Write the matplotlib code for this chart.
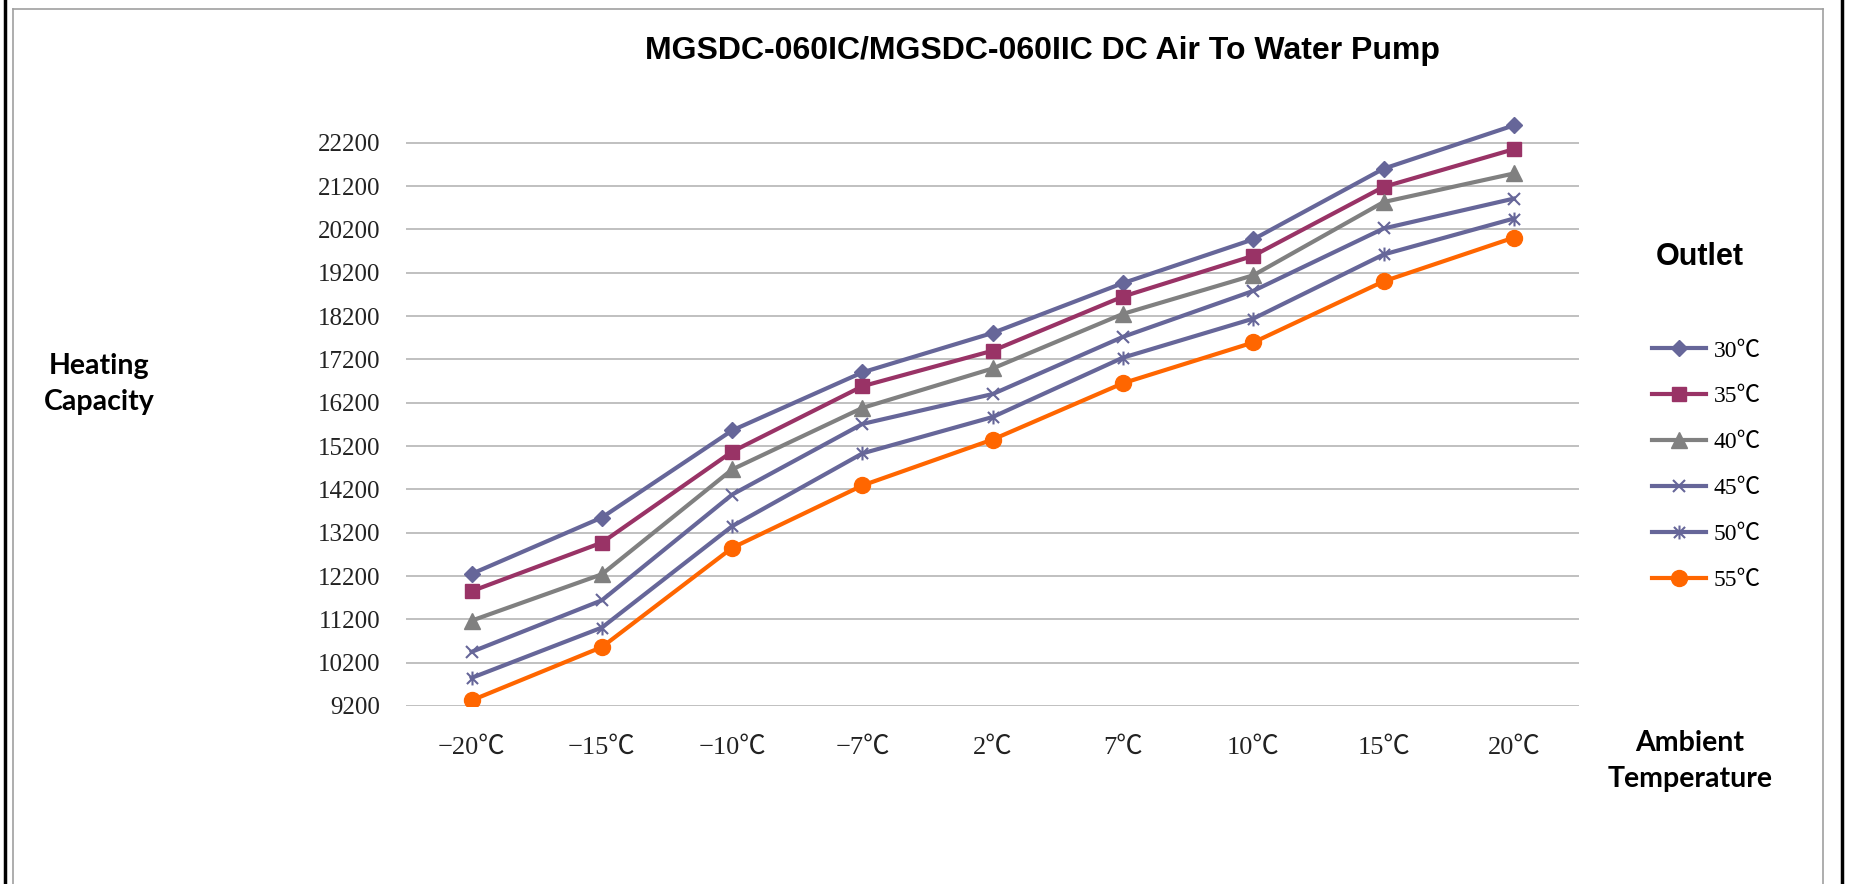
import matplotlib
matplotlib.use("Agg")
import matplotlib.pyplot as plt
from matplotlib.path import Path
from matplotlib.lines import Line2D

# ---------------- data ----------------
temps = ['−20℃', '−15℃', '−10℃', '−7℃', '2℃', '7℃', '10℃', '15℃', '20℃']
series_labels = ['30℃', '35℃', '40℃', '45℃', '50℃', '55℃']
out_30 = [12250, 13550, 15560, 16900, 17810, 18960, 19970, 21600, 22600]
out_35 = [11850, 12970, 15070, 16580, 17400, 18650, 19590, 21180, 22050]
out_40 = [11170, 12240, 14660, 16080, 16990, 18250, 19140, 20830, 21490]
out_45 = [10450, 11640, 14080, 15710, 16400, 17720, 18780, 20220, 20910]
out_50 = [9850, 11010, 13350, 15030, 15870, 17240, 18140, 19620, 20450]
out_55 = [9330, 10560, 12850, 14290, 15350, 16650, 17590, 19000, 20010]
y_ticks = list(range(9200, 22201, 1000))

# ---------------- style ----------------
serif = ['Liberation Serif', 'Noto Sans CJK SC', 'DejaVu Sans']
asterisk = Path([(0, -1), (0, 1), (-0.8, -0.8), (0.8, 0.8), (-0.8, 0.8), (0.8, -0.8)],
                [Path.MOVETO, Path.LINETO, Path.MOVETO, Path.LINETO, Path.MOVETO, Path.LINETO])

styles = [
    dict(color='#666699', marker='D', ms=8.5, mew=1),
    dict(color='#993366', marker='s', ms=10.5, mew=1),
    dict(color='#808080', marker='^', ms=11.5, mew=1),
    dict(color='#666699', marker='x', ms=8, mew=1.5),
    dict(color='#666699', marker=asterisk, ms=10, mew=1.5),
    dict(color='#FF6600', marker='o', ms=11.5, mew=1),
]
all_series = [out_30, out_35, out_40, out_45, out_50, out_55]

fig = plt.figure(figsize=(18.56, 8.84), dpi=100)
fig.patch.set_facecolor('white')
ax = fig.add_axes([406.5 / 1856, 178 / 884, (1579 - 406.5) / 1856, (706 - 116.7) / 884])

x = list(range(len(temps)))
for vals, lab, st in zip(all_series, series_labels, styles):
    ax.plot(x, vals, color=st['color'], lw=3, marker=st['marker'], ms=st['ms'],
            mfc=st['color'], mec=st['color'], mew=st['mew'], label=lab, zorder=3)

ax.set_xlim(-0.5, len(temps) - 0.5)
ax.set_ylim(9200, 22800)
ax.set_yticks(y_ticks)
ax.set_yticklabels([str(v) for v in y_ticks], family=serif, fontsize=18, color='#222222')
ax.set_xticks(x)
ax.set_xticklabels(temps, family=serif, fontsize=19, color='#222222')
ax.tick_params(axis='both', length=0)
ax.tick_params(axis='y', pad=19)
ax.tick_params(axis='x', pad=22)
ax.grid(axis='y', color='#C0C0C0', lw=1.4)
ax.set_axisbelow(True)
for sp in ax.spines.values():
    sp.set_visible(False)

# legend
leg = fig.legend(loc='upper left', bbox_to_anchor=(1652 / 1856, 1 - 340 / 884),
                 frameon=False, borderpad=0, borderaxespad=0, handlelength=2.3,
                 handletextpad=0.3, labelspacing=1.03, numpoints=1,
                 prop=dict(family=serif, size=17))

# texts
fig.text(1043 / 1856, 1 - 51 / 884, 'MGSDC-060IC/MGSDC-060IIC DC Air To Water Pump',
         ha='center', va='center', fontsize=23, fontweight='bold', family='Liberation Sans')
fig.text(1700 / 1856, 1 - 257 / 884, 'Outlet', ha='center', va='center',
         fontsize=22, fontweight='bold', family='Liberation Sans')
fig.text(99 / 1856, 1 - 384 / 884, 'Heating\nCapacity', ha='center', va='center',
         fontsize=20.5, fontweight='bold', family='Lato', linespacing=1.45)
fig.text(1690 / 1856, 1 - 761 / 884, 'Ambient\nTemperature', ha='center', va='center',
         fontsize=20.5, fontweight='bold', family='Lato', linespacing=1.45)

# outer frame
W, H = 1856, 884
fig.add_artist(Line2D([5 / W, 5 / W], [0, 1], color='black', lw=2.5, transform=fig.transFigure))
fig.add_artist(Line2D([13 / W, 13 / W], [0, 1 - 9 / H], color='#A0A0A0', lw=1.2, transform=fig.transFigure))
fig.add_artist(Line2D([13 / W, 1823 / W], [1 - 9 / H, 1 - 9 / H], color='#A0A0A0', lw=1.2, transform=fig.transFigure))
fig.add_artist(Line2D([1823 / W, 1823 / W], [0, 1 - 9 / H], color='#A0A0A0', lw=1.2, transform=fig.transFigure))
fig.add_artist(Line2D([1842 / W, 1842 / W], [0, 1], color='black', lw=2.5, transform=fig.transFigure))

fig.savefig('out.png', dpi=100, facecolor='white')
